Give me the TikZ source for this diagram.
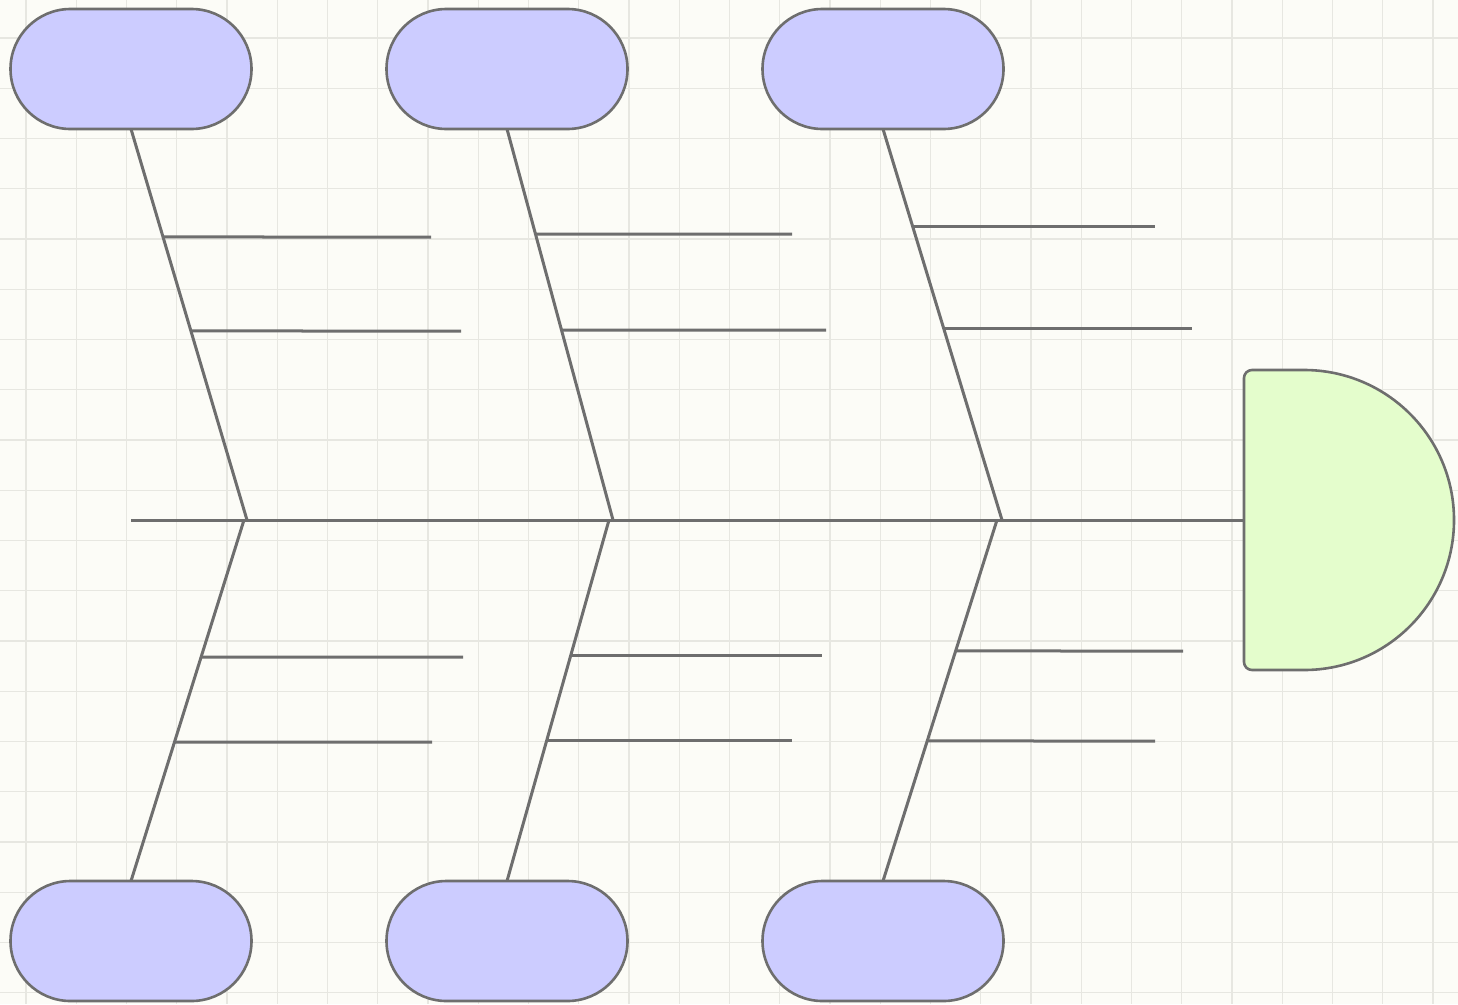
\documentclass[tikz,border=0pt]{standalone}
\usetikzlibrary{shapes.misc,calc}
\definecolor{bgc}{HTML}{FCFCF7}
\definecolor{gridc}{HTML}{E7E7E1}
\definecolor{linec}{HTML}{6E6E6E}
\definecolor{capfill}{HTML}{CCCCFF}
\definecolor{headfill}{HTML}{E4FDCC}
\tikzset{
  bone/.style={draw=linec, line width=3pt},
  capsule/.style={rounded rectangle, draw=linec, line width=2.6pt, fill=capfill,
    minimum width=241pt, minimum height=120pt, inner sep=0pt, outer sep=0pt},
}
\begin{document}
\begin{tikzpicture}[x=1pt,y=-1pt]
\fill[bgc] (0,0) rectangle (1458,1004);
\useasboundingbox (0,0) rectangle (1458,1004);
\foreach \k in {0,...,28} \draw[gridc, line width=1.1pt] ({26+50.25*\k},0) -- ({26+50.25*\k},1004);
\foreach \k in {0,...,19} \draw[gridc, line width=1.1pt] (0,{38+50.25*\k}) -- (1458,{38+50.25*\k});

% capsules
\node[capsule] (t1) at (131,69) {};
\node[capsule] (t2) at (507,69) {};
\node[capsule] (t3) at (883,69) {};
\node[capsule] (b1) at (131,941) {};
\node[capsule] (b2) at (507,941) {};
\node[capsule] (b3) at (883,941) {};

% spine joints
\coordinate (tail) at (131,520);
\coordinate (jt1) at (247,520);
\coordinate (jt2) at (613,520);
\coordinate (jt3) at (1002,520);
\coordinate (jb1) at (244,520);
\coordinate (jb2) at (609,520);
\coordinate (jb3) at (997,520);
\coordinate (head) at (1244,520);

% head
\draw[draw=linec, line width=2.6pt, fill=headfill, line join=round]
  (1304,370) -- (1252,370) to[out=180,in=90] (1244,378) -- (1244,662)
  to[out=-90,in=180] (1252,670) -- (1304,670) arc[start angle=90, end angle=-90, radius=150] -- cycle;

% spine
\draw[bone] (tail) -- (head);

% main bones
\draw[bone] (t1.south) -- (jt1);
\draw[bone] (t2.south) -- (jt2);
\draw[bone] (t3.south) -- (jt3);
\draw[bone] (jb1) -- (b1.north);
\draw[bone] (jb2) -- (b2.north);
\draw[bone] (jb3) -- (b3.north);

% sub bones (top)
\coordinate (e11) at (431,237);
\coordinate (e12) at (461,331);
\coordinate (s11) at (intersection of t1.south--jt1 and 0,237--e11);
\coordinate (s12) at (intersection of t1.south--jt1 and 0,331--e12);
\draw[bone] (s11) -- (e11);
\draw[bone] (s12) -- (e12);
\coordinate (e21) at (792,234);
\coordinate (e22) at (826,330);
\coordinate (s21) at (intersection of t2.south--jt2 and 0,234--e21);
\coordinate (s22) at (intersection of t2.south--jt2 and 0,330--e22);
\draw[bone] (s21) -- (e21);
\draw[bone] (s22) -- (e22);
\coordinate (e31) at (1155,226);
\coordinate (e32) at (1192,328);
\coordinate (s31) at (intersection of t3.south--jt3 and 0,226--e31);
\coordinate (s32) at (intersection of t3.south--jt3 and 0,328--e32);
\draw[bone] (s31) -- (e31);
\draw[bone] (s32) -- (e32);

% sub bones (bottom)
\coordinate (f11) at (463,657);
\coordinate (f12) at (432,742);
\coordinate (u11) at (intersection of jb1--b1.north and 0,657--f11);
\coordinate (u12) at (intersection of jb1--b1.north and 0,742--f12);
\draw[bone] (u11) -- (f11);
\draw[bone] (u12) -- (f12);
\coordinate (f21) at (822,655);
\coordinate (f22) at (792,740);
\coordinate (u21) at (intersection of jb2--b2.north and 0,655--f21);
\coordinate (u22) at (intersection of jb2--b2.north and 0,740--f22);
\draw[bone] (u21) -- (f21);
\draw[bone] (u22) -- (f22);
\coordinate (f31) at (1183,651);
\coordinate (f32) at (1155,741);
\coordinate (u31) at (intersection of jb3--b3.north and 0,651--f31);
\coordinate (u32) at (intersection of jb3--b3.north and 0,741--f32);
\draw[bone] (u31) -- (f31);
\draw[bone] (u32) -- (f32);
\end{tikzpicture}
\end{document}
